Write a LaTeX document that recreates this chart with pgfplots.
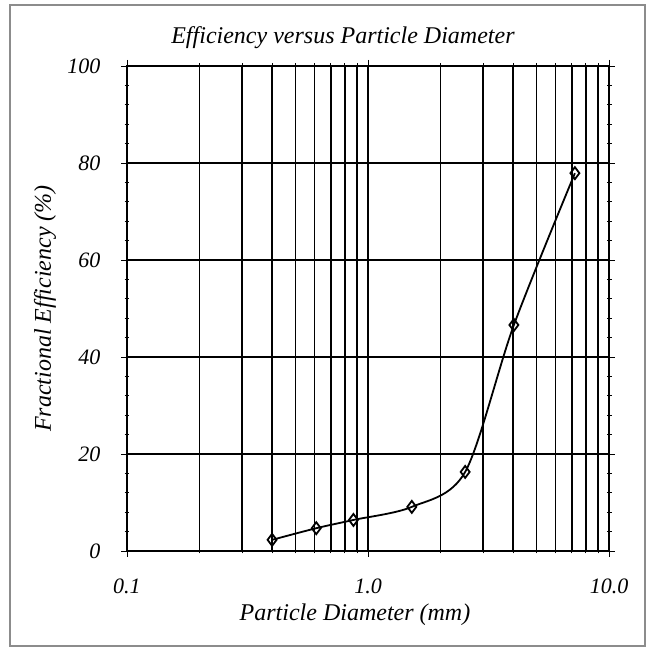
\documentclass[border=0pt]{standalone}
\usepackage{pgfplots}
\pgfplotsset{compat=1.18}
\usepackage{fontspec}
\setmainfont{Liberation Serif}
\begin{document}
\begin{tikzpicture}[x=1bp,y=1bp]
\useasboundingbox (0,0) rectangle (649,650);
\draw[black!45, line width=1.5bp] (10,4) rectangle (645,645);
\begin{axis}[
  at={(127bp,99bp)}, anchor=south west, scale only axis,
  width=482bp, height=485bp,
  xmode=log, log basis x=10,
  xmin=0.1, xmax=10, ymin=0, ymax=100,
  xtick={0.1,1,10}, xticklabels={0.1,1.0,10.0},
  minor xtick={0.2,0.3,0.4,0.5,0.6,0.7,0.8,0.9,2,3,4,5,6,7,8,9},
  ytick={0,20,40,60,80,100}, yticklabels={0,20,40,60,80,100},
  minor ytick={4,8,12,16,24,28,32,36,44,48,52,56,64,68,72,76,84,88,92,96},
  xmajorgrids=true, xminorgrids=true, ymajorgrids=true, yminorgrids=false,
  major grid style={black, line width=1.8bp},
  minor grid style={black, line width=1.8bp},
  axis line style={black, line width=1.8bp},
  tick align=center,
  major tick length=12bp, minor tick length=5bp,
  tick style={black, line width=0.8bp},
  ticklabel style={font=\fontsize{22bp}{26bp}\selectfont\itshape},
  xticklabel style={yshift=-18bp},
  yticklabel style={xshift=-17bp},
  xlabel={Particle Diameter (mm)},
  ylabel={Fractional Efficiency (\%)},
  title={Efficiency versus Particle Diameter},
  label style={font=\fontsize{24bp}{28bp}\selectfont\itshape},
  xlabel style={at={(axis description cs:0.473,-0.132)}, anchor=center},
  ylabel style={at={(axis description cs:-0.17,0.5)}, anchor=center},
  title style={font=\fontsize{24bp}{28bp}\selectfont\itshape, at={(axis description cs:0.448,1)}, anchor=center, yshift=22bp},
]
\addplot[black, line width=1.8bp, smooth, tension=0.5, mark=diamond, mark size=6bp, mark options={line width=1.8bp, fill=white}]
  coordinates {(0.40,2.3) (0.61,4.7) (0.87,6.4) (1.52,9.1) (2.53,16.3) (4.03,46.6) (7.22,77.9)};
\end{axis}
\end{tikzpicture}
\end{document}
